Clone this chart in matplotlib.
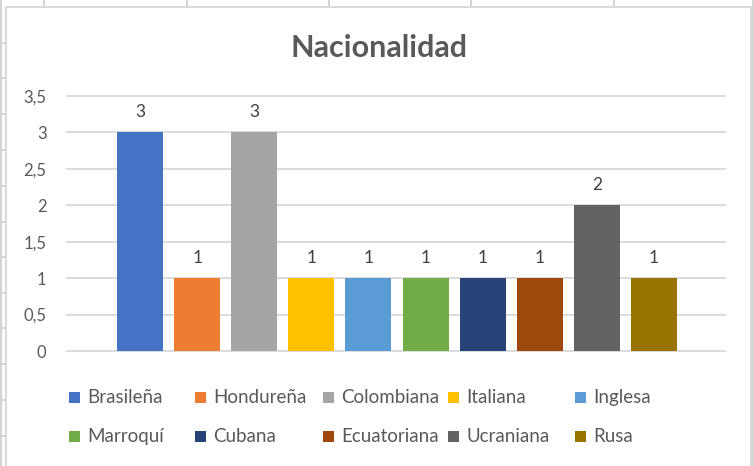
import matplotlib
matplotlib.use("Agg")
import matplotlib.pyplot as plt
from matplotlib.patches import Rectangle
from matplotlib.lines import Line2D

# datos del grafico
nacionalidades = ['Brasileña', 'Hondureña', 'Colombiana', 'Italiana', 'Inglesa',
                  'Marroquí', 'Cubana', 'Ecuatoriana', 'Ucraniana', 'Rusa']
cantidades = [3, 1, 3, 1, 1, 1, 1, 1, 2, 1]
colores = ['#4472C4', '#ED7D31', '#A5A5A5', '#FFC000', '#5B9BD5',
           '#70AD47', '#264478', '#9E480E', '#636363', '#997300']
yticks = [0, 0.5, 1, 1.5, 2, 2.5, 3, 3.5]
ytick_labels = ['0', '0,5', '1', '1,5', '2', '2,5', '3', '3,5']

plt.rcParams['font.family'] = ['Lato', 'DejaVu Sans']

W, H = 754, 466
fig = plt.figure(figsize=(W / 100, H / 100), dpi=100)


def fx(px):
    return px / W


def fy(py):
    return 1 - py / H


def fline(x0, y0, x1, y1, color='#D4D4D4', lw=1.4):
    fig.add_artist(Line2D([fx(x0), fx(x1)], [fy(y0), fy(y1)],
                          transform=fig.transFigure, color=color, lw=lw,
                          zorder=-2))


# celdas de la hoja de calculo detras del grafico
for x in [44, 187, 329, 471, 614]:
    fline(x, 0, x, 6)
for y in [42.7, 78.4, 114, 150, 186, 222, 257, 293, 328, 364, 400, 436]:
    fline(0, y, 5, y)
    fline(753, y, W, y)
fline(0.8, 0, 0.8, H)
fline(753, 0, 753, H)

# marco del grafico
fig.add_artist(Rectangle((fx(6), -0.05), fx(751) - fx(6), fy(6.5) + 0.05,
                         transform=fig.transFigure, facecolor='white',
                         edgecolor='#D9D9D9', lw=1.4, zorder=-1))

unit = (351 - 95.8) / 3.5
ax = fig.add_axes([fx(66), fy(351 + 0.01 * unit), fx(726) - fx(66),
                   (351 - 95.8 + 0.02 * unit) / H])
ax.patch.set_alpha(0)

for i, (n, v, c) in enumerate(zip(nacionalidades, cantidades, colores)):
    b = ax.bar(i, v, width=0.807, color=c, label=n, zorder=2)
    ax.bar_label(b, padding=9, fontsize=12.5, color='#404040')

ax.set_xlim(-1.298, 10.263)
ax.set_ylim(-0.01, 3.51)
ax.set_yticks(yticks, ytick_labels)
ax.set_xticks([])
ax.yaxis.grid(True, color='#D9D9D9', lw=1.3)
ax.set_axisbelow(True)
for s in ax.spines.values():
    s.set_visible(False)
ax.tick_params(axis='y', length=0, pad=14, labelsize=12, labelcolor='#595959')

fig.text(fx(379), fy(48), 'Nacionalidad', ha='center', va='center',
         fontsize=22, fontweight='bold', color='#595959')

# leyenda
leg_x = [69, 195, 323, 448, 575]
leg_y = [397.5, 436.5]
for i, (n, c) in enumerate(zip(nacionalidades, colores)):
    mx = leg_x[i % 5]
    my = leg_y[i // 5]
    fig.add_artist(Rectangle((fx(mx), fy(my + 5.5)), fx(11), 11 / H,
                             transform=fig.transFigure, facecolor=c, lw=0))
    fig.text(fx(mx + 18), fy(my), n, ha='left', va='center',
             fontsize=13.5, color='#595959')

fig.savefig('out.png', dpi=100)
